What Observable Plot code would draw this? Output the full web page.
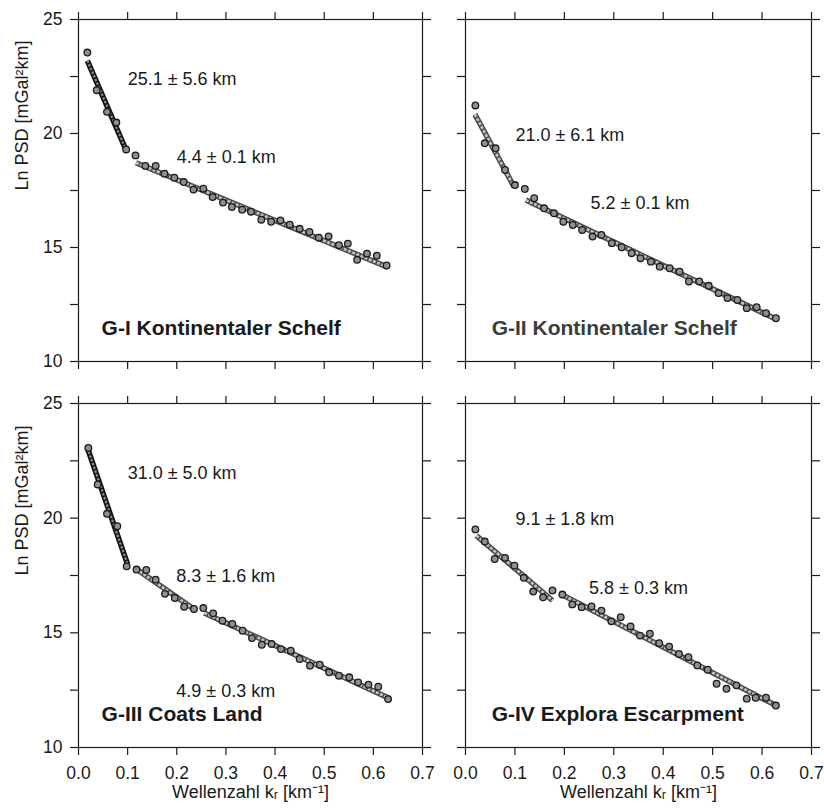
<!DOCTYPE html>
<html><head><meta charset="utf-8">
<script src="https://cdn.jsdelivr.net/npm/d3@7"></script>
<script src="https://cdn.jsdelivr.net/npm/@observablehq/plot@0.6"></script>
<style>
body{margin:0;background:#fff;}
#wrap{position:relative;width:824px;height:809px;overflow:hidden;background:#fff;}
#wrap svg{position:absolute;left:0;top:0;}
</style></head><body><div id="wrap"></div>
<script>
// ---- data (wavenumber k_r in 1/km, Ln PSD) ----
const kG1 = [0.018,0.037,0.058,0.077,0.097,0.116,0.136,0.157,0.175,0.195,0.214,0.234,0.254,0.273,0.294,0.312,0.333,0.351,0.372,0.392,0.411,0.430,0.450,0.470,0.489,0.509,0.530,0.548,0.567,0.587,0.607,0.627];
const psdG1 = [23.55,21.90,20.95,20.48,19.30,19.04,18.58,18.58,18.24,18.06,17.87,17.54,17.58,17.21,16.97,16.78,16.66,16.57,16.22,16.13,16.19,16.00,15.82,15.68,15.43,15.49,15.10,15.17,14.46,14.73,14.64,14.21];
const fitKG1 = [[0.018,0.097],[0.117,0.629]];
const fitPsdG1 = [[23.20,19.26],[18.72,14.14]];
const labelsG1 = ["25.1 ± 5.6 km","4.4 ± 0.1 km"];
const labelKG1 = [0.100,0.200];
const labelPsdG1 = [22.40,18.95];

const kG2 = [0.020,0.039,0.061,0.080,0.100,0.120,0.139,0.159,0.179,0.198,0.217,0.236,0.257,0.275,0.296,0.316,0.336,0.354,0.375,0.393,0.413,0.433,0.452,0.473,0.492,0.512,0.530,0.550,0.569,0.589,0.608,0.628];
const psdG2 = [21.23,19.57,19.35,18.40,17.74,17.57,17.16,16.72,16.50,16.13,15.99,15.77,15.48,15.55,15.19,15.01,14.75,14.53,14.38,14.16,14.09,13.94,13.51,13.51,13.32,13.00,12.78,12.70,12.34,12.38,12.12,11.90];
const fitKG2 = [[0.019,0.098],[0.122,0.631]];
const fitPsdG2 = [[20.84,17.67],[17.08,11.83]];
const labelsG2 = ["21.0 ± 6.1 km","5.2 ± 0.1 km"];
const labelKG2 = [0.101,0.253];
const labelPsdG2 = [19.91,16.93];

const kG3 = [0.020,0.039,0.058,0.079,0.098,0.118,0.138,0.157,0.176,0.196,0.215,0.235,0.254,0.274,0.293,0.313,0.334,0.353,0.373,0.393,0.412,0.432,0.450,0.471,0.491,0.510,0.530,0.551,0.569,0.590,0.610,0.630];
const psdG3 = [23.06,21.47,20.19,19.65,17.90,17.76,17.74,17.32,16.70,16.52,16.14,16.04,16.08,15.85,15.53,15.39,15.09,14.77,14.48,14.51,14.29,14.22,13.86,13.57,13.61,13.28,13.13,13.06,12.84,12.74,12.65,12.11];
const fitKG3 = [[0.018,0.100],[0.117,0.239],[0.256,0.632]];
const fitPsdG3 = [[23.07,17.98],[17.79,15.97],[15.87,12.15]];
const labelsG3 = ["31.0 ± 5.0 km","8.3 ± 1.6 km","4.9 ± 0.3 km"];
const labelKG3 = [0.100,0.199,0.199];
const labelPsdG3 = [21.95,17.45,12.47];

const kG4 = [0.020,0.039,0.059,0.080,0.099,0.118,0.137,0.157,0.176,0.196,0.216,0.235,0.255,0.275,0.295,0.314,0.334,0.353,0.373,0.392,0.412,0.432,0.451,0.469,0.490,0.508,0.528,0.548,0.569,0.587,0.608,0.628];
const psdG4 = [19.51,18.98,18.22,18.27,17.93,17.40,16.80,16.55,16.85,16.67,16.24,16.12,16.15,15.97,15.50,15.68,15.28,14.88,14.96,14.55,14.40,14.08,13.94,13.58,13.39,12.78,12.56,12.71,12.13,12.17,12.17,11.83];
const fitKG4 = [[0.022,0.176],[0.192,0.631]];
const fitPsdG4 = [[19.24,16.41],[16.70,11.80]];
const labelsG4 = ["9.1 ± 1.8 km","5.8 ± 0.3 km"];
const labelKG4 = [0.101,0.250];
const labelPsdG4 = [19.95,16.93];

const titles = ["G-I Kontinentaler Schelf","G-II Kontinentaler Schelf","G-III Coats Land","G-IV Explora Escarpment"];
const titleK = [0.047,0.053,0.047,0.053];
const titlePsd = [11.45,11.45,11.45,11.45];

const xTicks = [0,0.1,0.2,0.3,0.4,0.5,0.6,0.7];
const yTicks = [10,12.5,15,17.5,20,22.5,25];
const yTitle = "Ln PSD [mGal²km]";
const xTitle = "Wellenzahl kᵣ [km⁻¹]";

// ---- layout ----
const W = 824, H = 809;
const colLeft = [78,465], colRight = [422,811];
const rowTop = [19,403], rowBottom = [361,747];
const INK = "#1a1a1a";
const FONT = "'Liberation Sans', Arial, Helvetica, sans-serif";

const panels = [
  {k:kG1, psd:psdG1, fitK:fitKG1, fitPsd:fitPsdG1, labels:labelsG1, labelK:labelKG1, labelPsd:labelPsdG1, col:0, row:0, dark:[true,false], titleFill:INK},
  {k:kG2, psd:psdG2, fitK:fitKG2, fitPsd:fitPsdG2, labels:labelsG2, labelK:labelKG2, labelPsd:labelPsdG2, col:1, row:0, dark:[false,false], titleFill:"#3c3c3c"},
  {k:kG3, psd:psdG3, fitK:fitKG3, fitPsd:fitPsdG3, labels:labelsG3, labelK:labelKG3, labelPsd:labelPsdG3, col:0, row:1, dark:[true,false,false], titleFill:INK},
  {k:kG4, psd:psdG4, fitK:fitKG4, fitPsd:fitPsdG4, labels:labelsG4, labelK:labelKG4, labelPsd:labelPsdG4, col:1, row:1, dark:[false,false], titleFill:INK}
];

function makePanel(p, idx){
  const fitRows = p.fitK.flatMap((ks,i)=>ks.map((k,j)=>({k, psd:p.fitPsd[i][j], seg:i, dark:p.dark[i]})));
  const pts = p.k.map((k,i)=>({k, psd:p.psd[i]}));
  const lab = p.labels.map((t,i)=>({t, k:p.labelK[i], psd:p.labelPsd[i]}));
  const showX = p.row === 1, showY = p.col === 0;
  const fmtX = d3.format(".1f");
  const marks = [
    Plot.frame({stroke:INK, strokeWidth:1.2}),
    Plot.axisX({ticks:xTicks, anchor:"bottom", tickSize:8, tickPadding:11, label:null,
      tickFormat: showX ? (d=>fmtX(d)) : (()=>""), stroke:INK, strokeWidth:1.2, fill:INK}),
    Plot.axisX({ticks:xTicks, anchor:"top", tickSize:8, label:null, tickFormat:()=>"", stroke:INK, strokeWidth:1.2}),
    Plot.axisY({ticks:yTicks, anchor:"left", tickSize:8, tickPadding:8, label:null,
      tickFormat: showY ? (d=> d % 5 === 0 ? String(d) : "") : (()=>""), stroke:INK, strokeWidth:1.2, fill:INK}),
    Plot.axisY({ticks:yTicks, anchor:"right", tickSize:8, label:null, tickFormat:()=>"", stroke:INK, strokeWidth:1.2}),
    // fitted lines: dark outline + light core
    Plot.line(fitRows, {filter:d=>d.dark, x:"k", y:"psd", z:"seg", stroke:"#111", strokeWidth:5.5, strokeLinecap:"butt"}),
    Plot.line(fitRows, {filter:d=>d.dark, x:"k", y:"psd", z:"seg", stroke:"#8c8c8c", strokeWidth:2.2, strokeDasharray:"2.5,1.5", strokeLinecap:"butt"}),
    Plot.line(fitRows, {filter:d=>!d.dark, x:"k", y:"psd", z:"seg", stroke:"#4a4a4a", strokeWidth:5.5, strokeLinecap:"butt"}),
    Plot.line(fitRows, {filter:d=>!d.dark, x:"k", y:"psd", z:"seg", stroke:"#c4c4c4", strokeWidth:2.6, strokeDasharray:"3,1.5", strokeLinecap:"butt"}),
    Plot.dot(pts, {x:"k", y:"psd", r:3.3, fill:"#8f8f8f", stroke:INK, strokeWidth:1.3}),
    Plot.text(lab, {x:"k", y:"psd", text:"t", textAnchor:"start", fontSize:18, fill:INK}),
    Plot.text([titles[idx]], {x:()=>titleK[idx], y:()=>titlePsd[idx], text:d=>d, textAnchor:"start", fontSize:21, fontWeight:"bold", fill:p.titleFill})
  ];
  if (showY) marks.push(Plot.text([yTitle], {text:d=>d, frameAnchor:"left", dx:-56, rotate:-90, fontSize:18, fill:INK}));
  if (showX) marks.push(Plot.text([xTitle], {text:d=>d, frameAnchor:"bottom", dy:50, fontSize:18, fill:INK}));
  return Plot.plot({
    width:W, height:H,
    marginLeft:colLeft[p.col], marginRight:W-colRight[p.col],
    marginTop:rowTop[p.row], marginBottom:H-rowBottom[p.row],
    style:{background:"transparent", fontFamily:FONT, fontSize:"17.5px", color:INK, overflow:"visible"},
    x:{domain:[0,0.7]},
    y:{domain:[10,25]},
    marks
  });
}

const wrap = document.getElementById("wrap");
panels.forEach((p,i)=>{ wrap.appendChild(makePanel(p,i)); });
</script>
</body></html>
